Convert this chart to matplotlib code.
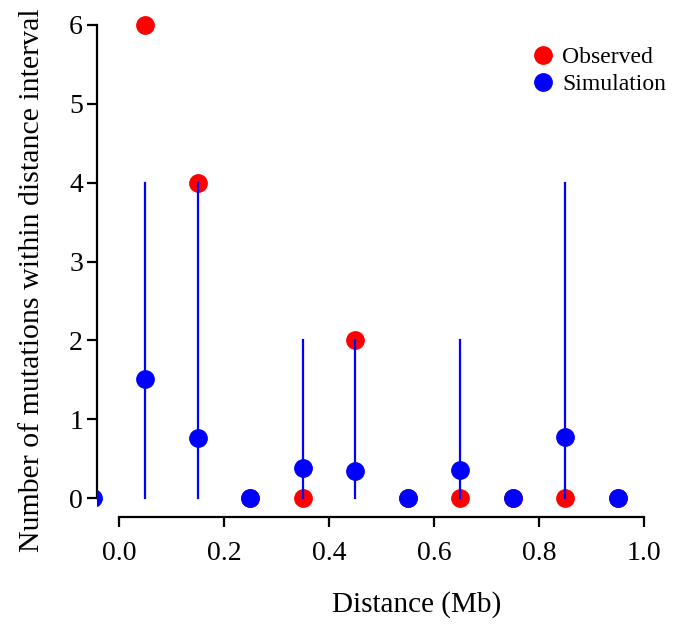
import matplotlib
matplotlib.use("Agg")
import matplotlib.pyplot as plt
import numpy as np

plt.rcParams['font.family'] = ['Liberation Serif', 'DejaVu Serif']

distance = [0.05, 0.15, 0.25, 0.35, 0.45, 0.55, 0.65, 0.75, 0.85, 0.95]
observed = [6, 4, 0, 0, 2, 0, 0, 0, 0, 0]
sim_x = [-0.05, 0.05, 0.15, 0.25, 0.35, 0.45, 0.55, 0.65, 0.75, 0.85, 0.95]
sim_mean = [0, 1.51, 0.76, 0, 0.38, 0.34, 0, 0.36, 0, 0.78, 0]
sim_low = [0, 0, 0, 0, 0, 0, 0, 0, 0, 0, 0]
sim_high = [0, 4, 4, 0, 2, 2, 0, 2, 0, 4, 0]
xticks = [0.0, 0.2, 0.4, 0.6, 0.8, 1.0]
xticklabels = ['0.0', '0.2', '0.4', '0.6', '0.8', '1.0']
yticks = [0, 1, 2, 3, 4, 5, 6]

W, H = 688, 626
fig = plt.figure(figsize=(W/100, H/100), dpi=100)
L, R, B, T = 97, 665, 517, 6
ax = fig.add_axes([L/W, 1 - B/H, (R-L)/W, (B-T)/H])

ax.plot(distance, observed, 'o', color='#ff0000', markersize=12.5, linestyle='none',
        label='Observed', zorder=2)
for x, lo, hi in zip(sim_x, sim_low, sim_high):
    if hi > lo:
        ax.plot([x, x], [lo, hi], color='#0000ff', lw=1.6, zorder=3)
ax.plot(sim_x, sim_mean, 'o', color='#0000ff', markersize=12.5, linestyle='none',
        label='Simulation', zorder=4)

ax.set_xlim(-0.042, 1.04)
ax.set_ylim(-0.24, 6.24)

for s in ['top', 'right']:
    ax.spines[s].set_visible(False)
ax.spines['left'].set_bounds(0, 6)
ax.spines['bottom'].set_bounds(0, 1)
for s in ['left', 'bottom']:
    ax.spines[s].set_linewidth(1.6)

ax.set_xticks(xticks)
ax.set_xticklabels(xticklabels)
ax.set_yticks(yticks)
ax.tick_params(axis='both', direction='out', length=7, width=1.6, labelsize=20)
ax.tick_params(axis='x', pad=10)
ax.tick_params(axis='y', pad=3)

ax.set_xlabel('Distance (Mb)', fontsize=21, va='center')
ax.set_ylabel('Number of mutations within distance interval', fontsize=21.5,
              va='center', ha='center')
ax.xaxis.set_label_coords((417 - L) / (R - L), (B - 605) / (B - T))
ax.yaxis.set_label_coords((32 - L) / (R - L), (B - 280) / (B - T))

x0, y0 = 519.6, 37
ax.legend(loc='upper left', bbox_to_anchor=(x0 / W, 1 - y0 / H),
          bbox_transform=fig.transFigure, frameon=False, fontsize=17,
          handletextpad=0.21, labelspacing=0.25, handlelength=1.2, borderaxespad=0,
          borderpad=0.4)

fig.savefig('out.png', dpi=100)
